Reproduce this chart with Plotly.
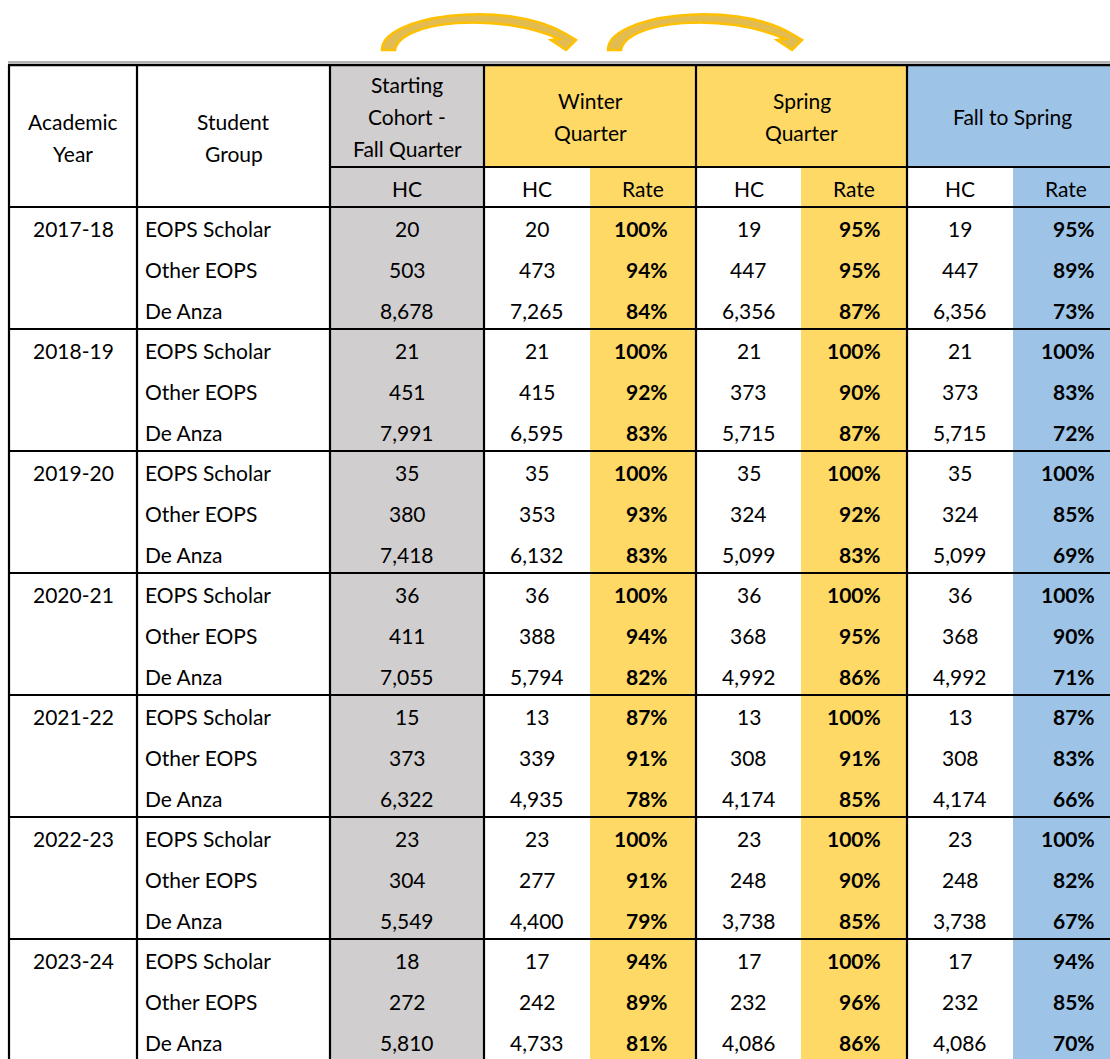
import plotly.graph_objects as go

# ---------------- data ----------------
years = ["2017-18", "2018-19", "2019-20", "2020-21", "2021-22", "2022-23", "2023-24"]
groups = ["EOPS Scholar", "Other EOPS", "De Anza"]

fall_hc = [[20, 503, 8678], [21, 451, 7991], [35, 380, 7418], [36, 411, 7055],
           [15, 373, 6322], [23, 304, 5549], [18, 272, 5810]]
winter_hc = [[20, 473, 7265], [21, 415, 6595], [35, 353, 6132], [36, 388, 5794],
             [13, 339, 4935], [23, 277, 4400], [17, 242, 4733]]
winter_rate = [[100, 94, 84], [100, 92, 83], [100, 93, 83], [100, 94, 82],
               [87, 91, 78], [100, 91, 79], [94, 89, 81]]
spring_hc = [[19, 447, 6356], [21, 373, 5715], [35, 324, 5099], [36, 368, 4992],
             [13, 308, 4174], [23, 248, 3738], [17, 232, 4086]]
spring_rate = [[95, 95, 87], [100, 90, 87], [100, 92, 83], [100, 95, 86],
               [100, 91, 85], [100, 90, 85], [100, 96, 86]]
f2s_hc = [[19, 447, 6356], [21, 373, 5715], [35, 324, 5099], [36, 368, 4992],
          [13, 308, 4174], [23, 248, 3738], [17, 232, 4086]]
f2s_rate = [[95, 89, 73], [100, 83, 72], [100, 85, 69], [100, 90, 71],
            [87, 83, 66], [100, 82, 67], [94, 85, 70]]

header_academic = ["Academic", "Year"]
header_group = ["Student", "Group"]
header_start = ["Starting", "Cohort -", "Fall Quarter"]
header_winter = ["Winter", "Quarter"]
header_spring = ["Spring", "Quarter"]
header_f2s = ["Fall to Spring"]
sub_headers = ["HC", "HC", "Rate", "HC", "Rate", "HC", "Rate"]

# ---------------- layout constants ----------------
W, H = 1110, 1059
FONT = "Lato"
FS = 21
GRAY = "#D0CECE"
YELLOW = "#FFD966"
BLUE = "#9DC3E6"

X = [9, 137, 330, 484, 590, 696, 801, 907, 1013, 1125]
Y_TOP = 65
Y_H1 = 167
Y_H2 = 207
GROUP_H = 122
ROW_H = GROUP_H / 3
Y_BOT = Y_H2 + GROUP_H * len(years)

fig = go.Figure()
fig.add_trace(go.Scatter(x=[0, W], y=[0, H], mode="markers",
                         marker=dict(opacity=0), hoverinfo="skip", showlegend=False))

shapes = []
annotations = []


def rect(x0, y0, x1, y1, color):
    shapes.append(dict(type="rect", xref="x", yref="y", x0=x0, x1=x1, y0=y0, y1=y1,
                       fillcolor=color, line=dict(width=0), layer="below"))


def hline(x0, x1, y, width=2.2, color="black"):
    shapes.append(dict(type="line", xref="x", yref="y", x0=x0, x1=x1, y0=y, y1=y,
                       line=dict(color=color, width=width), layer="above"))


def vline(x, y0, y1, width=2.2, color="black"):
    shapes.append(dict(type="line", xref="x", yref="y", x0=x, x1=x, y0=y0, y1=y1,
                       line=dict(color=color, width=width), layer="above"))


def text(x, y, s, anchor="center", bold=False):
    annotations.append(dict(x=x, y=y, xref="x", yref="y", text=("<b>%s</b>" % s) if bold else s,
                            showarrow=False, xanchor=anchor, yanchor="middle",
                            font=dict(family=FONT, size=FS, color="black")))


# backgrounds
rect(X[2], Y_TOP, X[3], Y_BOT + 10, GRAY)
rect(X[3], Y_TOP, X[5], Y_H1, YELLOW)
rect(X[5], Y_TOP, X[7], Y_H1, YELLOW)
rect(X[7], Y_TOP, X[9], Y_H1, BLUE)
rect(X[4], Y_H1, X[5], Y_BOT + 10, YELLOW)
rect(X[6], Y_H1, X[7], Y_BOT + 10, YELLOW)
rect(X[8], Y_H1, X[9], Y_BOT + 10, BLUE)

# borders
hline(X[0] - 1, W + 5, 62, width=1.5, color="#9a9a9a")
hline(X[0] - 1, W + 5, Y_TOP, width=2.6)
hline(X[2], W + 5, Y_H1)
hline(X[0] - 1, W + 5, Y_H2)
for g in range(1, len(years)):
    hline(X[0] - 1, W + 5, Y_H2 + GROUP_H * g)
for xi in [X[0], X[1], X[2], X[3], X[5], X[7]]:
    vline(xi, Y_TOP, Y_BOT + 10)

# headers
def multiline(cx, lines, cy, spacing=32):
    n = len(lines)
    for i, s in enumerate(lines):
        text(cx, cy + (i - (n - 1) / 2) * spacing, s)

multiline((X[0] + X[1]) / 2, header_academic, 137)
multiline((X[1] + X[2]) / 2, header_group, 137)
multiline((X[2] + X[3]) / 2, header_start, 116)
multiline((X[3] + X[5]) / 2, header_winter, 116)
multiline((X[5] + X[7]) / 2, header_spring, 116)
multiline((X[7] + 1118) / 2, header_f2s, 116)

sub_centers = [(X[2] + X[3]) / 2, (X[3] + X[4]) / 2, (X[4] + X[5]) / 2,
               (X[5] + X[6]) / 2, (X[6] + X[7]) / 2, (X[7] + X[8]) / 2, (X[8] + 1118) / 2]
for cx, s in zip(sub_centers, sub_headers):
    text(cx, 188, s)

# body
rate_right = [670, 883, 1097]
for g, yr in enumerate(years):
    for r, grp in enumerate(groups):
        cy = Y_H2 + GROUP_H * g + ROW_H * (r + 0.5) + 1.5
        if r == 0:
            text((X[0] + X[1]) / 2, cy, yr)
        text(X[1] + 6, cy, grp, anchor="left")
        text(sub_centers[0], cy, f"{fall_hc[g][r]:,}")
        text(sub_centers[1], cy, f"{winter_hc[g][r]:,}")
        text(rate_right[0], cy, f"{winter_rate[g][r]}%", anchor="right", bold=True)
        text(sub_centers[3], cy, f"{spring_hc[g][r]:,}")
        text(rate_right[1], cy, f"{spring_rate[g][r]}%", anchor="right", bold=True)
        text(sub_centers[5], cy, f"{f2s_hc[g][r]:,}")
        text(rate_right[2], cy, f"{f2s_rate[g][r]}%", anchor="right", bold=True)

# curved arrows above the Winter / Spring headers
def arrow_path(dx):
    def p(x, y):
        return f"{x + dx},{y}"
    return ("M " + p(382, 50) +
            " C " + p(381, 16) + " " + p(505, -2) + " " + p(566, 34) +
            " L " + p(576, 40) + " L " + p(566, 50) + " L " + p(551, 40) +
            " L " + p(559, 39) +
            " C " + p(500, 12) + " " + p(400, 20) + " " + p(395, 50) + " Z")

for dx in [0, 226]:
    shapes.append(dict(type="path", xref="x", yref="y", path=arrow_path(dx),
                       fillcolor="#E2BC50", line=dict(color="#FFC000", width=2.5),
                       layer="above"))

fig.update_layout(
    width=W, height=H,
    margin=dict(l=0, r=0, t=0, b=0),
    paper_bgcolor="white", plot_bgcolor="white",
    xaxis=dict(range=[0, W], visible=False, fixedrange=True),
    yaxis=dict(range=[H, 0], visible=False, fixedrange=True),
    shapes=shapes, annotations=annotations, showlegend=False,
)

fig.write_html(
    "out.html",
    config={"displayModeBar": False},
    post_script="document.body.style.margin='0px';document.body.style.padding='0px';"
                "document.body.style.overflow='hidden';",
)
